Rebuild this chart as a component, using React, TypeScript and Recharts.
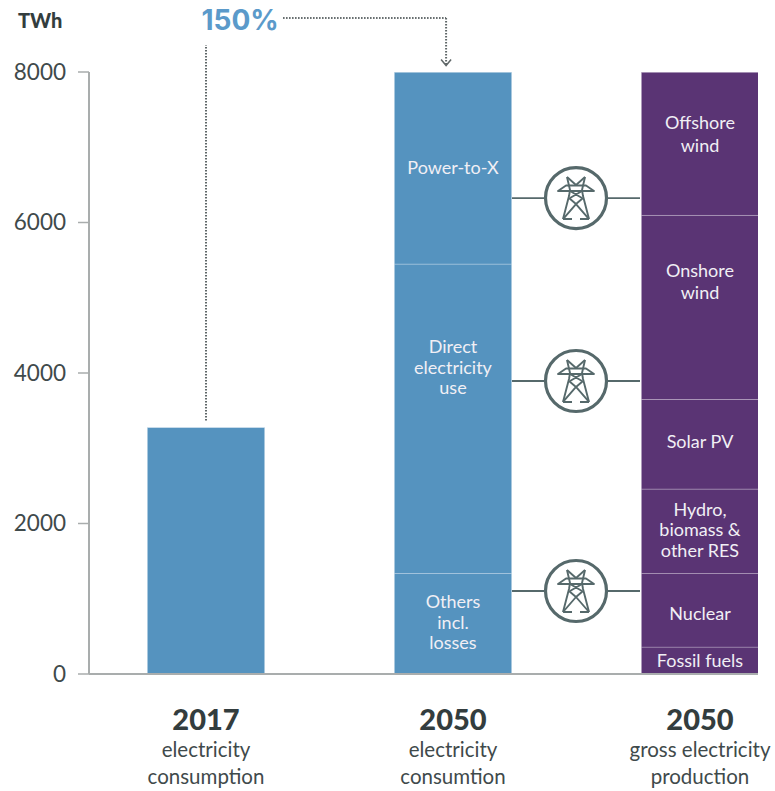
import React from 'react';
import { BarChart, Bar, XAxis, YAxis, ReferenceDot, ReferenceLine, LabelList } from 'recharts';

const BLUE = '#5593bf';
const PURPLE = '#5a3474';
const INK = '#3f4a4b';
const FONT = 'Lato, sans-serif';

const positions = [0, 1, 2];
const years = ['2017', '2050', '2050'];
const captionsA = ['electricity', 'electricity', 'gross electricity'];
const captionsB = ['consumption', 'consumtion', 'production'];
const yTicks = [0, 2000, 4000, 6000, 8000];

const consumption2017 = [3280, 0, 0];
const othersLosses = [0, 1340, 0];
const directUse = [0, 4110, 0];
const powerToX = [0, 2550, 0];
const fossil = [0, 0, 360];
const nuclear = [0, 0, 980];
const hydro = [0, 0, 1120];
const solar = [0, 0, 1190];
const onshore = [0, 0, 2450];
const offshore = [0, 0, 1900];

const seriesList = [
  { key: 'consumption2017', values: consumption2017, color: BLUE, lines: [] as string[] },
  { key: 'othersLosses', values: othersLosses, color: BLUE, lines: ['Others', 'incl.', 'losses'] },
  { key: 'directUse', values: directUse, color: BLUE, lines: ['Direct', 'electricity', 'use'] },
  { key: 'powerToX', values: powerToX, color: BLUE, lines: ['Power-to-X'] },
  { key: 'fossil', values: fossil, color: PURPLE, lines: ['Fossil fuels'] },
  { key: 'nuclear', values: nuclear, color: PURPLE, lines: ['Nuclear'] },
  { key: 'hydro', values: hydro, color: PURPLE, lines: ['Hydro,', 'biomass &', 'other RES'] },
  { key: 'solar', values: solar, color: PURPLE, lines: ['Solar PV'] },
  { key: 'onshore', values: onshore, color: PURPLE, lines: ['Onshore', 'wind'] },
  { key: 'offshore', values: offshore, color: PURPLE, lines: ['Offshore', 'wind'] },
];

const rows = positions.map((x, i) => {
  const row: Record<string, number> = { x };
  seriesList.forEach((s) => { row[s.key] = s.values[i]; });
  return row;
});

const towerX = 1.498;
const towerLevels = [6325, 3894, 1103];

const SegmentShape = (props: any) => {
  const { x, y, width, height, fill } = props;
  if (!height) return null;
  return (
    <g>
      <rect x={x} y={y} width={width} height={height} fill={fill} />
      <line x1={x} x2={x + width} y1={y} y2={y} stroke="#ffffff" strokeOpacity={0.6} strokeWidth={1.4} />
    </g>
  );
};

const segmentLabel = (lines: string[], labelLift: number) => (props: any) => {
  const { x, y, width, height, value } = props;
  if (!value || !lines.length) return null;
  const cx = x + width / 2;
  const cy = y + height / 2 - labelLift;
  const step = lines.length === 3 ? 20.5 : 22.5;
  return (
    <text textAnchor="middle" fill="#f1eff5" fontFamily={FONT} fontSize={18}>
      {lines.map((line, i) => (
        <tspan key={i} x={cx} y={cy + (i - (lines.length - 1) / 2) * step + 6}>{line}</tspan>
      ))}
    </text>
  );
};

const lifts: Record<string, number> = {
  powerToX: 0, directUse: 51, othersLosses: 1, offshore: 9, onshore: 25, solar: 2, hydro: 1, nuclear: -4, fossil: -1,
};

const Tower = (props: any) => {
  const { cx, cy } = props;
  const c = '#56696b';
  return (
    <g transform={`translate(${cx},${cy})`} fill="none" stroke={c}>
      <line x1={-64} x2={-31} y1={0} y2={0} strokeWidth={1.8} />
      <line x1={31} x2={64} y1={0} y2={0} strokeWidth={1.8} />
      <circle r={30.5} strokeWidth={3.2} fill="#fff" />
      <g strokeWidth={1.9} strokeLinejoin="round">
        <path d="M-9,-21 L-6,-8 L-7,-2 L-13,21 M9,-21 L6,-8 L7,-2 L13,21" />
        <path d="M-9,-21 L0,-13 L9,-21" />
        <path d="M-18,-7 L-10,-12.5 L10,-12.5 L18,-7 Z M-6,-7 L6,0 M6,-7 L-6,0" />
        <path d="M-7,0 L0,6 L7,0 M0,6 L-13,21 M0,6 L13,21 M-13,21 L-4,21 M13,21 L4,21" />
      </g>
    </g>
  );
};

const PercentText = (props: any) => (
  <text x={props.cx} y={props.cy} textAnchor="middle" dominantBaseline="central" fill="#5b9aca" fontFamily="Inter, Lato, sans-serif" fontWeight={700} fontSize={28}>150%</text>
);

const ArrowHead = (props: any) => {
  const { cx, cy } = props;
  return <path d={`M${cx - 5},${cy - 6} L${cx},${cy} L${cx + 5},${cy - 6}`} fill="none" stroke="#5f6768" strokeWidth={1.5} />;
};

const UnitText = () => (
  <text x={18} y={28} fill="#333d3e" fontFamily={FONT} fontWeight={900} fontSize={20}>TWh</text>
);

const XTick = (props: any) => {
  const { x, y, payload } = props;
  const i = positions.indexOf(payload.value);
  return (
    <g>
      <text x={x} y={y + 48} textAnchor="middle" fill="#333d3e" fontFamily={FONT} fontWeight={900} fontSize={29}>{years[i]}</text>
      <text x={x} y={y + 75} textAnchor="middle" fill={INK} fontFamily={FONT} fontSize={20.5}>{captionsA[i]}</text>
      <text x={x} y={y + 102} textAnchor="middle" fill={INK} fontFamily={FONT} fontSize={20.5}>{captionsB[i]}</text>
    </g>
  );
};

const dotStyle = { stroke: '#5f6768', strokeWidth: 2, strokeDasharray: '1.5 1.5' };

export default function App() {
  return (
    <div style={{ position: 'absolute', left: 0, top: 0, width: 775, height: 791, background: '#fff' }}>
      <BarChart width={775} height={791} data={rows} barSize={117} margin={{ top: 72, right: 17, bottom: 0, left: 0 }}>
        <XAxis
          dataKey="x"
          type="number"
          domain={[-0.4737, 2.2348]}
          ticks={positions}
          height={117}
          axisLine={{ stroke: '#a9adad', strokeWidth: 2 }}
          tickLine={false}
          tick={<XTick />}
          allowDataOverflow
          interval={0}
        />
        <YAxis
          domain={[0, 8000]}
          ticks={yTicks}
          width={89}
          axisLine={{ stroke: '#a9adad', strokeWidth: 2 }}
          tickLine={{ stroke: '#a9adad', strokeWidth: 1.5 }}
          tickSize={11}
          tickMargin={12}
          tick={{ fill: INK, fontFamily: FONT, fontSize: 22.5 }}
          label={<UnitText />}
        />
        {seriesList.map((s) => (
          <Bar key={s.key} dataKey={s.key} stackId="a" fill={s.color} isAnimationActive={false} shape={<SegmentShape />}>
            <LabelList dataKey={s.key} content={segmentLabel(s.lines, lifts[s.key] ?? 0)} />
          </Bar>
        ))}
        {towerLevels.map((level) => (
          <ReferenceDot key={level} x={towerX} y={level} ifOverflow="visible" shape={<Tower />} />
        ))}
        <ReferenceLine segment={[{ x: 0, y: 3370 }, { x: 0, y: 8359 }]} ifOverflow="visible" {...dotStyle} />
        <ReferenceLine segment={[{ x: 0.312, y: 8718 }, { x: 0.972, y: 8718 }]} ifOverflow="visible" {...dotStyle} />
        <ReferenceLine segment={[{ x: 0.972, y: 8718 }, { x: 0.972, y: 8090 }]} ifOverflow="visible" {...dotStyle} />
        <ReferenceDot x={0.972} y={8085} ifOverflow="visible" shape={<ArrowHead />} />
        <ReferenceDot x={0.138} y={8695} ifOverflow="visible" shape={<PercentText />} />
      </BarChart>
    </div>
  );
}
